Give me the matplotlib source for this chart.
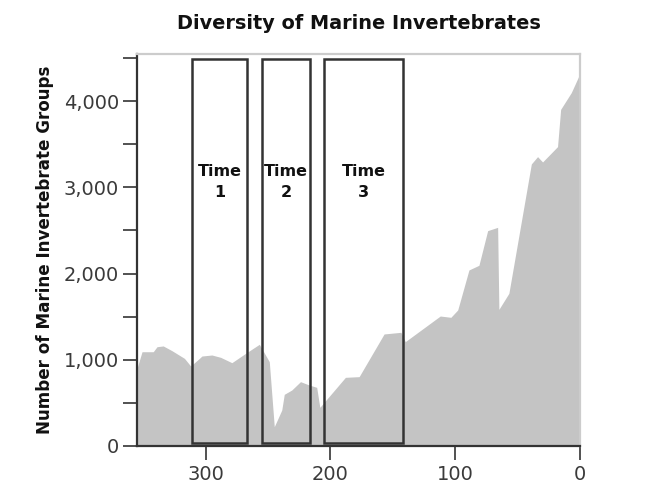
import matplotlib
matplotlib.use("Agg")
import matplotlib.pyplot as plt
from matplotlib.patches import Rectangle
from matplotlib.ticker import MultipleLocator, FuncFormatter

# Data: age (millions of years ago) and number of marine invertebrate groups
ages = [355, 351, 342, 339, 334, 327, 317, 312, 305, 303, 295, 288, 279, 268,
        257, 249, 245, 239, 237, 231, 224, 217, 211, 208.5, 188, 177, 157,
        143.5, 140, 112, 103.5, 98, 89, 81, 74, 66, 65, 57, 39, 34, 30, 18,
        15.5, 7, 0]
groups = [900, 1093, 1093, 1151, 1160, 1105, 1016, 927, 1016, 1043, 1055,
          1028, 966, 1074, 1179, 978, 224, 417, 599, 649, 746, 707, 680, 448,
          796, 804, 1299, 1318, 1210, 1507, 1492, 1577, 2041, 2095, 2497,
          2535, 1584, 1770, 3270, 3355, 3293, 3471, 3903, 4097, 4320]

box_labels = ["Time\n1", "Time\n2", "Time\n3"]
box_start = [311, 255, 205]
box_end = [267, 216.5, 142]
box_bottom = 30
box_top = 4490

x_ticks = [300, 200, 100, 0]
y_ticks = [0, 1000, 2000, 3000, 4000]

plt.rcParams['font.family'] = ['DejaVu Sans']

fig = plt.figure(figsize=(6.5, 4.9), dpi=100)
ax = fig.add_axes([0.2108, 0.0898, 0.6815, 0.80])

ax.fill_between(ages, groups, 0, color='#c4c4c4', linewidth=0, zorder=1)

for lab, s, e in zip(box_labels, box_start, box_end):
    ax.add_patch(Rectangle((e, box_bottom), s - e, box_top - box_bottom,
                           fill=False, edgecolor='#333333', linewidth=1.8, zorder=3))
    ax.text((s + e) / 2, 3060, lab, ha='center', va='center', fontsize=11.5,
            fontweight='bold', color='#111111', linespacing=1.55, zorder=4)

ax.set_xlim(355, 0)
ax.set_ylim(0, 4545)
ax.set_xticks(x_ticks)
ax.set_yticks(y_ticks)
ax.yaxis.set_minor_locator(MultipleLocator(500))
ax.yaxis.set_major_formatter(FuncFormatter(lambda v, p: f"{int(v):,}"))

for side in ['left', 'bottom']:
    ax.spines[side].set_color('#333333')
    ax.spines[side].set_linewidth(1.6)
for side in ['top', 'right']:
    ax.spines[side].set_color('#cccccc')
    ax.spines[side].set_linewidth(1.6)

ax.tick_params(axis='both', which='both', direction='out', length=10,
               width=1.2, color='#333333', labelsize=14, labelcolor='#3a3a3a')
ax.tick_params(axis='y', which='both', right=False)
ax.tick_params(axis='x', which='both', top=False, pad=4)
ax.tick_params(axis='y', pad=3)

ax.set_ylabel("Number of Marine Invertebrate Groups", fontsize=12.1,
              fontweight='bold', color='#111111', labelpad=7)
ax.set_title("Diversity of Marine Invertebrates", fontsize=13.9,
             fontweight='bold', color='#111111', pad=18)

fig.savefig("out.png", dpi=100)
